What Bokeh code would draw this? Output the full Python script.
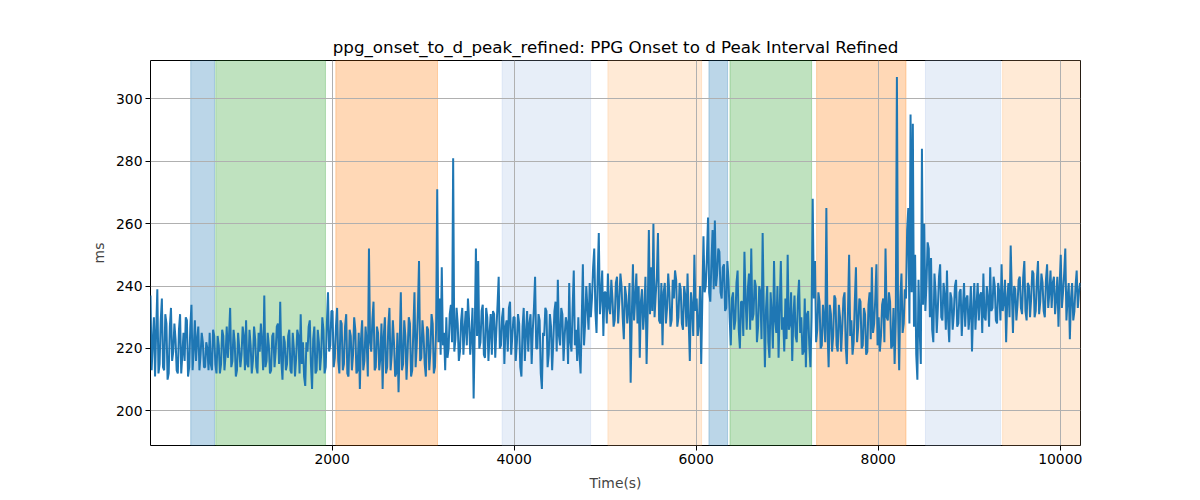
from bokeh.plotting import figure
from bokeh.models import Range1d, FixedTicker, BoxAnnotation
from bokeh.embed import file_html
from bokeh.resources import INLINE

# ---- data ----
step_s = 12.5
t0_s = 5.0
ms_rows = [
    [237, 213, 222, 230, 211, 226, 239, 212, 215, 229, 236, 214, 213, 231, 228, 210, 212, 227, 233, 216],  # 0
    [219, 228, 223, 213, 212, 226, 231, 212, 218, 225, 216, 230, 229, 211, 214, 227, 234, 213, 220, 229],  # 250
    [216, 223, 227, 213, 218, 225, 222, 214, 214, 222, 220, 213, 225, 215, 213, 226, 224, 215, 212, 224],  # 500
    [221, 212, 215, 226, 224, 213, 218, 227, 217, 224, 233, 214, 216, 226, 222, 211, 213, 225, 220, 214],  # 750
    [218, 227, 224, 213, 229, 215, 214, 226, 221, 212, 216, 227, 223, 214, 212, 225, 219, 228, 222, 213],  # 1000
    [237, 214, 216, 225, 221, 212, 213, 224, 225, 214, 219, 227, 228, 215, 235, 216, 210, 224, 222, 213],  # 1250
    [215, 224, 226, 213, 212, 225, 220, 211, 217, 226, 224, 212, 231, 215, 222, 211, 208, 222, 219, 227],  # 1500
    [229, 215, 207, 223, 227, 212, 213, 226, 222, 213, 218, 230, 226, 212, 214, 228, 238, 219, 221, 232],  # 1750
    [232, 214, 217, 227, 233, 216, 212, 229, 228, 213, 215, 227, 231, 212, 211, 226, 224, 213, 218, 230],  # 2000
    [226, 212, 213, 225, 207, 223, 229, 213, 216, 227, 222, 211, 252, 222, 219, 229, 235, 213, 214, 227],  # 2250
    [225, 213, 217, 228, 207, 224, 230, 212, 214, 227, 233, 213, 218, 229, 222, 211, 212, 225, 206, 221],  # 2500
    [238, 213, 215, 229, 224, 210, 219, 230, 228, 211, 213, 226, 238, 214, 221, 232, 248, 216, 217, 229],  # 2750
    [224, 215, 211, 227, 226, 213, 219, 231, 228, 212, 214, 226, 271, 222, 236, 218, 246, 221, 225, 213],  # 3000
    [230, 217, 220, 231, 234, 222, 281, 219, 223, 233, 228, 216, 219, 229, 233, 218, 226, 232, 221, 236],  # 3250
    [229, 218, 224, 233, 204, 226, 252, 224, 248, 220, 222, 232, 234, 218, 217, 233, 230, 216, 225, 231],  # 3500
    [218, 232, 231, 217, 226, 234, 243, 220, 221, 230, 233, 215, 227, 229, 219, 233, 235, 218, 224, 230],  # 3750
    [230, 216, 222, 231, 228, 214, 211, 227, 233, 216, 225, 232, 219, 228, 231, 215, 226, 233, 243, 220],  # 4000
    [220, 231, 229, 212, 207, 225, 224, 233, 232, 214, 218, 231, 227, 213, 222, 232, 235, 219, 242, 224],  # 4250
    [221, 233, 231, 216, 224, 230, 228, 215, 241, 222, 219, 233, 245, 221, 226, 216, 230, 218, 212, 229],  # 4500
    [247, 221, 228, 240, 233, 226, 241, 230, 236, 246, 252, 232, 225, 243, 257, 231, 237, 245, 224, 238],  # 4750
    [238, 228, 244, 233, 231, 242, 236, 227, 229, 241, 243, 228, 235, 244, 240, 230, 223, 240, 237, 228],  # 5000
    [233, 241, 209, 230, 247, 229, 236, 244, 228, 240, 217, 235, 239, 226, 232, 243, 215, 232, 258, 231],  # 5250
    [246, 232, 260, 230, 237, 243, 257, 229, 228, 241, 221, 238, 241, 228, 233, 244, 238, 227, 229, 242],  # 5500
    [236, 245, 242, 227, 230, 241, 239, 228, 226, 240, 237, 227, 244, 229, 216, 238, 233, 224, 250, 232],  # 5750
    [236, 224, 228, 240, 215, 236, 256, 238, 240, 249, 262, 238, 235, 248, 258, 239, 261, 240, 244, 252],  # 6000
    [251, 238, 236, 246, 247, 232, 233, 248, 242, 230, 221, 236, 238, 226, 229, 241, 245, 226, 220, 235],  # 6250
    [235, 224, 251, 236, 226, 239, 244, 226, 252, 229, 231, 242, 240, 222, 227, 240, 238, 223, 257, 233],  # 6500
    [214, 233, 240, 222, 217, 238, 231, 220, 248, 229, 225, 240, 217, 233, 248, 226, 230, 219, 236, 223],  # 6750
    [250, 226, 228, 238, 216, 230, 237, 224, 222, 236, 242, 225, 230, 218, 219, 236, 214, 231, 232, 221],  # 7000
    [214, 230, 268, 236, 248, 222, 226, 238, 235, 220, 221, 234, 229, 222, 265, 226, 214, 234, 231, 219],  # 7250
    [224, 237, 236, 221, 219, 234, 230, 219, 227, 236, 238, 221, 215, 232, 250, 224, 229, 218, 222, 235],  # 7500
    [246, 222, 227, 236, 235, 220, 221, 233, 231, 218, 219, 234, 238, 223, 246, 225, 228, 236, 247, 221],  # 7750
    [230, 219, 224, 234, 236, 222, 252, 230, 229, 238, 235, 220, 221, 233, 215, 229, 307, 232, 213, 236],  # 8000
    [244, 225, 228, 239, 236, 258, 265, 228, 295, 238, 292, 227, 250, 218, 210, 242, 226, 215, 284, 234],  # 8250
    [260, 232, 241, 254, 252, 230, 249, 226, 222, 244, 238, 225, 233, 243, 247, 230, 229, 241, 237, 226],  # 8500
    [245, 229, 222, 238, 236, 226, 231, 240, 242, 227, 228, 238, 239, 224, 233, 241, 227, 236, 237, 226],  # 8750
    [231, 240, 219, 232, 241, 226, 234, 241, 229, 237, 238, 225, 244, 230, 229, 240, 236, 227, 246, 232],  # 9000
    [233, 243, 240, 229, 228, 241, 238, 229, 247, 232, 235, 242, 222, 236, 241, 230, 253, 238, 225, 240],  # 9250
    [239, 229, 234, 242, 243, 233, 231, 243, 248, 232, 229, 241, 240, 230, 236, 245, 244, 230, 232, 242],  # 9500
    [248, 231, 235, 244, 241, 232, 230, 242, 247, 233, 238, 245, 233, 241, 243, 231, 236, 243, 227, 240],  # 9750
    [250, 233, 238, 244, 252, 229, 236, 241, 223, 236, 241, 229, 232, 240, 245, 233, 238, 241],            # 10000
]
ms_values = [v for row in ms_rows for v in row]
time_s = [t0_s + step_s * i for i in range(len(ms_values))]

region_starts = [447, 722, 2041, 3868, 5030, 6140, 6371, 7323, 8519, 9366]
region_ends = [708, 1927, 3158, 4840, 6059, 6345, 7268, 8305, 9344, 10300]
region_colors = ["#1f77b4", "#2ca02c", "#ff7f0e", "#aec7e8", "#ffbb78",
                 "#1f77b4", "#2ca02c", "#ff7f0e", "#aec7e8", "#ffbb78"]

x_ticks = [2000, 4000, 6000, 8000, 10000]
y_ticks = [200, 220, 240, 260, 280, 300]

FONT = "DejaVu Sans"

p = figure(
    width=1184, height=484,
    frame_width=930, frame_height=385,
    min_border_left=150, min_border_right=104,
    min_border_top=60, min_border_bottom=39,
    x_range=Range1d(5, 10222), y_range=Range1d(188.9, 312.3),
    output_backend="svg", toolbar_location=None,
    title="ppg_onset_to_d_peak_refined: PPG Onset to d Peak Interval Refined",
)
p.background_fill_color = "white"
p.border_fill_color = "white"
p.outline_line_color = "black"
p.outline_line_width = 1
p.outline_line_alpha = 1

p.title.align = "center"
p.title.text_font = FONT
p.title.text_font_style = "normal"
p.title.text_font_size = "16.7px"
p.title.text_color = "black"
p.title.offset = 0
p.title.standoff = 8

for s, e, c in zip(region_starts, region_ends, region_colors):
    p.add_layout(BoxAnnotation(left=s, right=e, fill_color=c, fill_alpha=0.3,
                               line_color=c, line_alpha=0.3, line_width=1,
                               level="image"))

p.line(time_s, ms_values, line_color="#1f77b4", line_width=2)

p.xaxis.ticker = FixedTicker(ticks=x_ticks)
p.yaxis.ticker = FixedTicker(ticks=y_ticks)
p.xaxis.axis_label = "Time(s)"
p.yaxis.axis_label = "ms"
for ax in (p.xaxis, p.yaxis):
    ax.axis_label_text_font = FONT
    ax.axis_label_text_font_style = "normal"
    ax.axis_label_text_font_size = "13.9px"
    ax.major_label_text_font = FONT
    ax.major_label_text_font_size = "13.9px"
    ax.major_label_text_color = "black"
    ax.axis_line_color = None
    ax.major_tick_line_color = "black"
    ax.major_tick_out = 5
    ax.major_tick_in = 0
    ax.minor_tick_line_color = None
    ax.major_label_standoff = 3
p.xaxis.axis_label_standoff = 8
p.yaxis.axis_label_standoff = 6

p.grid.grid_line_color = "#b0b0b0"
p.grid.grid_line_width = 1
p.grid.level = "underlay"

open("out.html", "w").write(file_html(p, INLINE))
